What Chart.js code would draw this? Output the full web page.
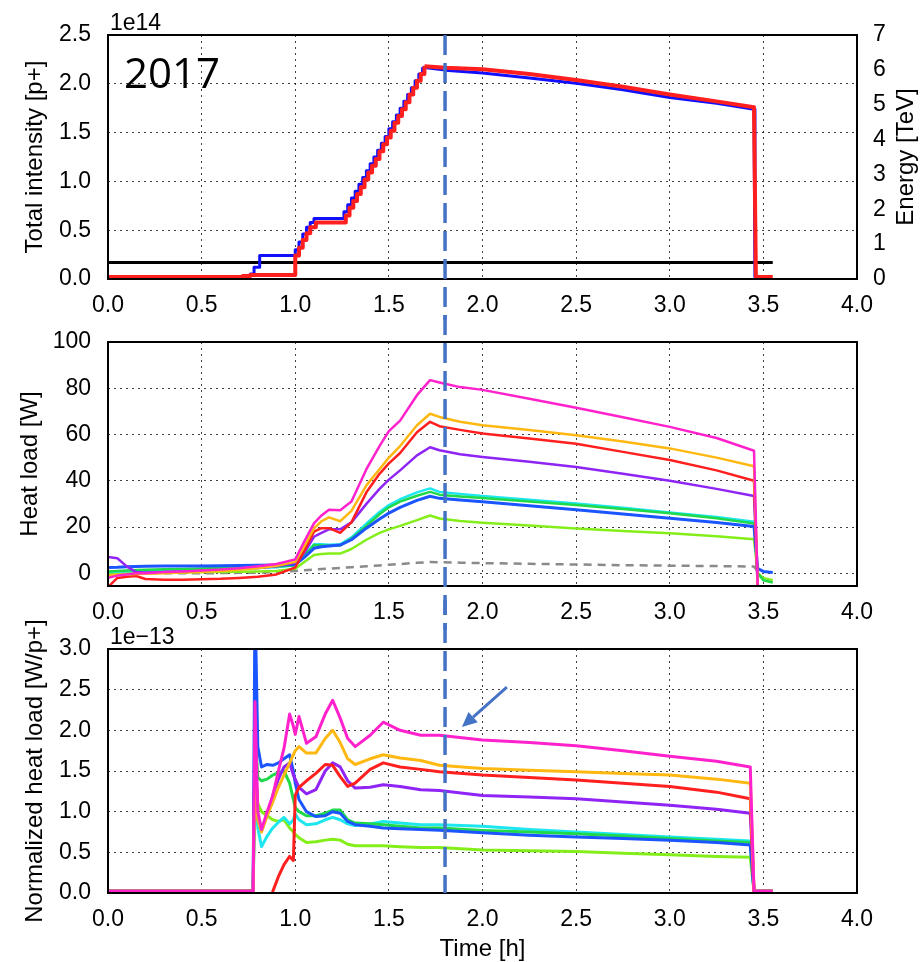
<!DOCTYPE html>
<html>
<head>
<meta charset="utf-8">
<title>Heat load 2017</title>
<script src="https://cdn.jsdelivr.net/npm/chart.js@4.4.0/dist/chart.umd.min.js"></script>
<style>
  html, body { margin: 0; padding: 0; background: #fff; }
  body { position: relative; width: 920px; height: 962px; overflow: hidden; }
  canvas { position: absolute; left: 0; }
</style>
</head>
<body>
<canvas id="intensity" width="920" height="320" style="top:0px"></canvas>
<canvas id="heatload" width="920" height="320" style="top:310px"></canvas>
<canvas id="normalized" width="920" height="362" style="top:600px"></canvas>
<script>
// ---- Data ----
const timeTicks = [0, 0.5, 1, 1.5, 2, 2.5, 3, 3.5, 4];
const intensityTicks = [0, 0.5, 1, 1.5, 2, 2.5];   // x 1e14
const energyTicks = [0, 1, 2, 3, 4, 5, 6, 7];
const heatTicks = [0, 20, 40, 60, 80, 100];
const normTicks = [0, 0.5, 1, 1.5, 2, 2.5, 3];      // x 1e-13
const markTime = 1.8;

// Beam intensities [1e14 p+], injection (stepped) and stable part
const b1InjTime = [0, 0.72, 0.76, 0.78, 0.81, 1.00, 1.02, 1.04, 1.06, 1.08, 1.10,
  1.26, 1.28, 1.30, 1.32, 1.34, 1.36, 1.38, 1.40, 1.42, 1.44, 1.46, 1.48, 1.50,
  1.52, 1.54, 1.56, 1.58, 1.60, 1.62, 1.64, 1.66, 1.68];
const b1InjInt = [0.02, 0.03, 0.05, 0.12, 0.24, 0.30, 0.38, 0.46, 0.53, 0.58, 0.62,
  0.69, 0.76, 0.83, 0.90, 0.97, 1.04, 1.11, 1.18, 1.25, 1.32, 1.39, 1.46, 1.54,
  1.61, 1.68, 1.75, 1.82, 1.89, 1.96, 2.03, 2.10, 2.17];
const b1StbTime = [1.68, 1.80, 2.00, 2.25, 2.50, 2.75, 3.00, 3.25, 3.45, 3.455];
const b1StbInt = [2.17, 2.14, 2.11, 2.06, 2.005, 1.94, 1.86, 1.80, 1.74, 0.02];

const b2InjTime = [0, 0.72, 0.76, 1.00, 1.02, 1.04, 1.06, 1.08, 1.11,
  1.27, 1.29, 1.31, 1.33, 1.35, 1.37, 1.39, 1.41, 1.43, 1.45, 1.47, 1.49,
  1.51, 1.53, 1.55, 1.57, 1.59, 1.61, 1.63, 1.65, 1.67, 1.69];
const b2InjInt = [0.02, 0.03, 0.04, 0.24, 0.32, 0.40, 0.47, 0.53, 0.58,
  0.65, 0.73, 0.80, 0.87, 0.94, 1.02, 1.09, 1.16, 1.23, 1.31, 1.38, 1.45,
  1.52, 1.60, 1.67, 1.74, 1.81, 1.89, 1.96, 2.03, 2.10, 2.18];
const b2StbTime = [1.69, 1.80, 2.00, 2.25, 2.50, 2.75, 3.00, 3.25, 3.45, 3.46, 3.55];
const b2StbInt = [2.18, 2.165, 2.15, 2.10, 2.04, 1.97, 1.89, 1.82, 1.76, 0.02, 0.02];

// Beam energy [TeV]
const enTime = [0, 3.55];
const enTeV = [0.47, 0.47];

// Heat loads [W]
const hlTime = [0, 0.05, 0.1, 0.15, 0.2, 0.3, 0.4, 0.5, 0.6, 0.7, 0.8, 0.9, 1.0, 1.05, 1.1,
  1.14, 1.18, 1.24, 1.3, 1.38, 1.45, 1.5, 1.56, 1.65, 1.72, 1.77, 1.88, 2.0, 2.25, 2.5,
  2.75, 3.0, 3.25, 3.45, 3.47, 3.5, 3.55];
const hlMagenta = [-2, -1, -0.5, 0, 0, 0.5, 0.8, 1.2, 1.6, 2.2, 3, 4, 6, 14, 21.6,
  25, 27.5, 27.3, 31, 45, 55, 61.5, 66, 77, 83.5, 82.5, 80.5, 79.3, 75.5, 71.6,
  67.5, 63.3, 58.5, 53, -7, null, null];
const hlOrange = [-1, -0.6, -0.5, -0.3, -0.2, 0, 0.3, 0.6, 1, 1.5, 2.2, 3.2, 5, 12, 19.4,
  22.5, 24.2, 22.5, 27, 38, 45, 50, 55, 64, 69, 67.6, 65.5, 64, 62, 59.7,
  57, 54, 50, 46.3, -7, null, null];
const hlRed = [-6, -2, -1.5, -1.2, -2.5, -2.8, -2.8, -2.6, -2.4, -2, -1.5, -0.5, 2.5, 10, 18,
  19.5, 19.5, 17.5, 22, 35, 43, 47.5, 52, 61, 65.5, 63.6, 62, 60.4, 58.3, 56,
  52.5, 49, 44.5, 40, -7, null, null];
const hlPurple = [7, 6.5, 3, 0.5, 0.3, 0.5, 0.8, 1, 1.3, 1.8, 2.3, 3, 4.5, 9, 15.8,
  17.5, 19, 19, 22, 30, 36.5, 40.5, 44.5, 51, 54.5, 53.2, 51.5, 50.3, 48.2, 46,
  43, 40, 36.5, 33.4, -7, null, null];
const hlCyan = [0.5, 0.7, 0.9, 1, 1.1, 1.3, 1.5, 1.7, 1.9, 2.1, 2.3, 2.6, 3.5, 8, 12.5,
  12.5, 12.3, 12.5, 15.5, 21.5, 26.5, 29.5, 32, 35, 36.7, 35.2, 34.3, 33.4, 31.8, 30.2,
  28.3, 26.3, 24.3, 22.3, -3, null, null];
const hlGreen = [0.8, 1, 1.2, 1.4, 1.5, 1.7, 1.9, 2.1, 2.3, 2.5, 2.7, 2.9, 3.5, 7.5, 12.2,
  12, 12, 12, 15, 20.5, 25.5, 28.5, 31, 33.5, 35.2, 34, 33.2, 32.5, 31, 29.5,
  27.8, 26, 23.8, 21.5, 0, -3, -4];
const hlBlue = [2.5, 2.6, 2.8, 2.9, 3, 3.1, 3.2, 3.2, 3.3, 3.4, 3.5, 3.6, 3.8, 7, 10.8,
  11.5, 11.8, 12.2, 14.5, 19.5, 23.5, 26, 28.5, 31.5, 33.3, 32.4, 31.7, 30.9, 29.2, 27.5,
  25.6, 23.8, 22, 20.2, 2, 0.8, 0.3];
const hlLime = [-0.5, -0.3, 0, 0.1, 0.2, 0.3, 0.4, 0.5, 0.6, 0.7, 0.8, 1, 2, 5, 7.9,
  8.3, 8.6, 8.5, 10.5, 14.5, 17.5, 19, 20.5, 23, 25, 23.7, 22.6, 21.9, 20.7, 19.4,
  18.3, 17.3, 16, 14.7, 0, -2, -3];
const hlGrey = [0, 0, 0, 0, 0, 0, 0, 0, 0.1, 0.2, 0.3, 0.5, 1, 1.3, 1.6,
  1.8, 2, 2.3, 2.6, 3, 3.4, 3.7, 4, 4.5, 4.9, 4.8, 4.6, 4.4, 4.1, 3.8,
  3.5, 3.3, 3.1, 2.9, 1, 0, null];

// Normalized heat loads [1e-13 W/p+]
const nhTime = [0, 0.775, 0.785, 0.80, 0.82, 0.85, 0.88, 0.91, 0.94, 0.97,
  0.99, 1.0, 1.02, 1.06, 1.11, 1.16, 1.2, 1.24, 1.28, 1.32,
  1.4, 1.47, 1.56, 1.67, 1.77, 2.0, 2.25, 2.5, 2.75, 3.0, 3.25, 3.43, 3.45, 3.55];
const nhMagenta = [0.02, 0.02, 2.35, 1.0, 0.78, 1.0, 1.2, 1.5, 1.78, 2.2,
  2.05, 1.95, 2.17, 1.84, 1.92, 2.2, 2.37, 2.15, 1.9, 1.8,
  1.94, 2.1, 2.0, 1.94, 1.94, 1.88, 1.85, 1.81, 1.75, 1.68, 1.62, 1.55, 0.02, 0.02];
const nhOrange = [0.02, 0.02, 1.5, 0.9, 0.75, 0.95, 1.12, 1.3, 1.45, 1.6,
  1.7, 1.75, 1.8, 1.72, 1.72, 1.9, 2.0, 1.85, 1.65, 1.58,
  1.65, 1.7, 1.66, 1.63, 1.57, 1.53, 1.51, 1.49, 1.47, 1.45, 1.40, 1.35, 0.02, 0.02];
const nhRed = [0.02, 0.02, -0.5, -0.5, -0.5, -0.5, 0.02, 0.2, 0.35, 0.45,
  0.4, 1.2, 1.3, 1.38, 1.47, 1.58, 1.57, 1.43, 1.31, 1.35,
  1.52, 1.6, 1.55, 1.52, 1.49, 1.45, 1.42, 1.39, 1.35, 1.31, 1.24, 1.16, 0.02, 0.02];
const nhPurple = [0.02, 0.02, 1.9, 0.9, 0.8, 0.95, 1.2, 1.4, 1.55, 1.6,
  1.45, 1.4, 1.3, 1.22, 1.27, 1.5, 1.6, 1.55, 1.38, 1.29,
  1.3, 1.33, 1.31, 1.27, 1.26, 1.2, 1.18, 1.16, 1.12, 1.08, 1.03, 0.98, 0.02, 0.02];
const nhCyan = [0.02, 0.02, 1.3, 0.8, 0.57, 0.7, 0.8, 0.87, 0.93, 0.85,
  0.9, 0.97, 0.9, 0.84, 0.85, 0.9, 0.93, 0.9, 0.85, 0.83,
  0.85, 0.88, 0.86, 0.84, 0.84, 0.82, 0.78, 0.75, 0.72, 0.69, 0.66, 0.64, 0.02, 0.02];
const nhGreen = [0.02, 0.02, 2.0, 1.42, 1.38, 1.4, 1.45, 1.48, 1.5, 1.35,
  1.15, 1.05, 1.0, 0.95, 0.95, 0.98, 1.02, 1.02, 0.9, 0.86,
  0.85, 0.84, 0.82, 0.8, 0.8, 0.77, 0.75, 0.73, 0.7, 0.67, 0.64, 0.62, 0.02, 0.02];
const nhBlue = [0.02, 0.02, 3.6, 1.8, 1.55, 1.58, 1.57, 1.6, 1.65, 1.7,
  1.5, 1.35, 1.15, 1.0, 0.94, 0.95, 1.0, 0.98, 0.88, 0.84,
  0.82, 0.8, 0.79, 0.78, 0.77, 0.74, 0.71, 0.69, 0.67, 0.65, 0.62, 0.59, 0.02, 0.02];
const nhLime = [0.02, 0.02, 1.6, 1.1, 1.0, 0.95, 0.9, 0.88, 0.9, 0.8,
  0.75, 0.72, 0.68, 0.62, 0.63, 0.65, 0.66, 0.65, 0.6, 0.58,
  0.58, 0.58, 0.57, 0.56, 0.56, 0.53, 0.52, 0.51, 0.49, 0.47, 0.45, 0.44, 0.02, 0.02];

// ---- Styling ----
const FONT = "'Liberation Sans', Arial, sans-serif";
const tickFont = { family: FONT, size: 23 };
const titleFont = { family: FONT, size: 24 };
const C = {
  magenta: '#ff22cc', orange: '#ffb811', red: '#ff1f1f', purple: '#8f24f5',
  cyan: '#1ee6ee', green: '#1fd94a', blue: '#1b55ff', lime: '#84ee1a', grey: '#8a8a8a',
  markBlue: '#4472c4'
};
const dashOrigin = 35; // page y where the marker line starts

const pts = (ts, vs) => ts.map((t, i) => ({ x: t, y: vs[i] }));

function line(data, color, width, extra) {
  return Object.assign({
    data, borderColor: color, borderWidth: width, pointRadius: 0,
    fill: false, tension: 0, borderJoinStyle: 'round', spanGaps: false
  }, extra || {});
}

function timeAxis(height, showTitle) {
  return {
    type: 'linear', min: 0, max: 4,
    afterBuildTicks: s => { s.ticks = timeTicks.map(v => ({ value: v })); },
    afterFit: s => { s.height = height; },
    grid: { color: 'rgba(0,0,0,0.75)', lineWidth: 1, drawTicks: false },
    border: { display: false, dash: [2, 4] },
    ticks: { font: tickFont, color: '#000', padding: 13, maxRotation: 0, autoSkip: false,
      callback: v => v.toFixed(1) },
    title: { display: showTitle, text: 'Time [h]', font: titleFont, color: '#000',
      padding: { top: 0, bottom: -2 } }
  };
}

function valueAxis(min, max, ticks, fmt, title, titlePad) {
  return {
    type: 'linear', position: 'left', min, max,
    afterBuildTicks: s => { s.ticks = ticks.map(v => ({ value: v })); },
    afterFit: s => { s.width = 108; },
    grid: { color: 'rgba(0,0,0,0.75)', lineWidth: 1, drawTicks: false },
    border: { display: false, dash: [2, 4] },
    ticks: { font: tickFont, color: '#000', padding: 17, callback: fmt },
    title: { display: true, text: title, font: titleFont, color: '#000',
      padding: { top: titlePad, bottom: 0 } }
  };
}

// Frame, marker line and annotations
const decor = {
  id: 'decor',
  afterDraw(chart, args, o) {
    const { ctx, chartArea: a } = chart;
    const xs = chart.scales.x, ys = chart.scales.y;
    ctx.save();
    ctx.setLineDash([]);
    ctx.strokeStyle = '#000';
    ctx.lineWidth = 2;
    ctx.strokeRect(a.left, a.top, a.right - a.left, a.bottom - a.top);
    ctx.fillStyle = '#000';
    if (o.exponent) {
      ctx.font = `23px ${FONT}`;
      ctx.textAlign = 'left';
      ctx.textBaseline = 'alphabetic';
      ctx.fillText(o.exponent, a.left + 2, a.top - 5);
    }
    if (o.year) {
      ctx.font = "42px 'Open Sans', sans-serif";
      ctx.textAlign = 'left';
      ctx.textBaseline = 'alphabetic';
      ctx.fillText(o.year, a.left + 16, a.top + 53);
    }
    if (o.rightTitle) {
      ctx.save();
      ctx.translate(chart.width - 14, (a.top + a.bottom) / 2);
      ctx.rotate(-Math.PI / 2);
      ctx.font = `24px ${FONT}`;
      ctx.textAlign = 'center';
      ctx.textBaseline = 'middle';
      ctx.fillText(o.rightTitle, 0, 0);
      ctx.restore();
    }
    if (o.arrow) {
      const x0 = xs.getPixelForValue(o.arrow.from[0]), y0 = ys.getPixelForValue(o.arrow.from[1]);
      const x1 = xs.getPixelForValue(o.arrow.to[0]), y1 = ys.getPixelForValue(o.arrow.to[1]);
      const ang = Math.atan2(y1 - y0, x1 - x0);
      const hl = 15, hw = 7;
      ctx.strokeStyle = C.markBlue;
      ctx.fillStyle = C.markBlue;
      ctx.lineWidth = 3;
      ctx.beginPath();
      ctx.moveTo(x0, y0);
      ctx.lineTo(x1 - hl * Math.cos(ang), y1 - hl * Math.sin(ang));
      ctx.stroke();
      ctx.beginPath();
      ctx.moveTo(x1, y1);
      ctx.lineTo(x1 - hl * Math.cos(ang) + hw * Math.sin(ang), y1 - hl * Math.sin(ang) - hw * Math.cos(ang));
      ctx.lineTo(x1 - hl * Math.cos(ang) - hw * Math.sin(ang), y1 - hl * Math.sin(ang) + hw * Math.cos(ang));
      ctx.closePath();
      ctx.fill();
    }
    // vertical dashed marker crossing all three panels
    const mx = xs.getPixelForValue(markTime);
    const top = o.lineFromArea ? a.top : 0;
    const bottom = o.lineToArea ? a.bottom : chart.height;
    ctx.strokeStyle = C.markBlue;
    ctx.lineWidth = 3.5;
    ctx.setLineDash([20, 8]);
    ctx.lineDashOffset = (o.pageTop || 0) + top - dashOrigin;
    ctx.beginPath();
    ctx.moveTo(mx, top);
    ctx.lineTo(mx, bottom);
    ctx.stroke();
    ctx.restore();
  }
};
Chart.register(decor);

const common = {
  responsive: false, animation: false, events: [], devicePixelRatio: 1
};

// ---- Top: intensity and energy ----
new Chart(document.getElementById('intensity'), {
  type: 'line',
  data: {
    datasets: [
      line(pts(b2InjTime, b2InjInt), C.red, 4, { stepped: true, yAxisID: 'y' }),
      line(pts(b2StbTime, b2StbInt), C.red, 4, { yAxisID: 'y' }),
      line(pts(b1InjTime, b1InjInt), '#1010ff', 3, { stepped: true, yAxisID: 'y' }),
      line(pts(b1StbTime, b1StbInt), '#1010ff', 3, { yAxisID: 'y' }),
      line(pts(enTime, enTeV), '#000', 3, { yAxisID: 'y1' })
    ]
  },
  options: Object.assign({}, common, {
    layout: { padding: { top: 35, right: 0, left: 0, bottom: 0 } },
    plugins: {
      legend: { display: false }, tooltip: { enabled: false },
      decor: { exponent: '1e14', year: '2017', rightTitle: 'Energy [TeV]',
        lineFromArea: true, lineToArea: false, pageTop: 0 }
    },
    scales: {
      x: timeAxis(41, false),
      y: valueAxis(0, 2.5, intensityTicks, v => v.toFixed(1), 'Total intensity [p+]', 21),
      y1: {
        type: 'linear', position: 'right', min: 0, max: 7,
        afterBuildTicks: s => { s.ticks = energyTicks.map(v => ({ value: v })); },
        afterFit: s => { s.width = 63; },
        grid: { display: false, drawTicks: false },
        border: { display: false },
        ticks: { font: tickFont, color: '#000', padding: 16, callback: v => String(v) }
      }
    }
  })
});

// ---- Middle: heat load ----
new Chart(document.getElementById('heatload'), {
  type: 'line',
  data: {
    datasets: [
      line(pts(hlTime, hlMagenta), C.magenta, 2.5),
      line(pts(hlTime, hlOrange), C.orange, 2.5),
      line(pts(hlTime, hlRed), C.red, 2.5),
      line(pts(hlTime, hlPurple), C.purple, 2.5),
      line(pts(hlTime, hlBlue), C.blue, 3),
      line(pts(hlTime, hlGreen), C.green, 2.5),
      line(pts(hlTime, hlCyan), C.cyan, 2.5),
      line(pts(hlTime, hlLime), C.lime, 2.5),
      line(pts(hlTime, hlGrey), C.grey, 2.5, { borderDash: [8, 6] })
    ]
  },
  options: Object.assign({}, common, {
    layout: { padding: { top: 32, right: 63, left: 0, bottom: 0 } },
    plugins: {
      legend: { display: false }, tooltip: { enabled: false },
      decor: { lineFromArea: false, lineToArea: false, pageTop: 310 }
    },
    scales: {
      x: timeAxis(44, false),
      y: valueAxis(-5.5, 100, heatTicks, v => String(v), 'Heat load [W]', 16)
    }
  })
});

// ---- Bottom: normalized heat load ----
new Chart(document.getElementById('normalized'), {
  type: 'line',
  data: {
    datasets: [
      line(pts(nhTime, nhMagenta), C.magenta, 3),
      line(pts(nhTime, nhOrange), C.orange, 3),
      line(pts(nhTime, nhRed), C.red, 3),
      line(pts(nhTime, nhPurple), C.purple, 3),
      line(pts(nhTime, nhBlue), C.blue, 3),
      line(pts(nhTime, nhGreen), C.green, 3),
      line(pts(nhTime, nhCyan), C.cyan, 3),
      line(pts(nhTime, nhLime), C.lime, 3)
    ]
  },
  options: Object.assign({}, common, {
    layout: { padding: { top: 49, right: 63, left: 0, bottom: 0 } },
    plugins: {
      legend: { display: false }, tooltip: { enabled: false },
      decor: { exponent: '1e\u221213', arrow: { from: [2.13, 2.53], to: [1.89, 2.04] },
        lineFromArea: false, lineToArea: true, pageTop: 600 }
    },
    scales: {
      x: timeAxis(69, true),
      y: valueAxis(0, 3, normTicks, v => v.toFixed(1), 'Normalized heat load [W/p+]', 21)
    }
  })
});
</script>
</body>
</html>
